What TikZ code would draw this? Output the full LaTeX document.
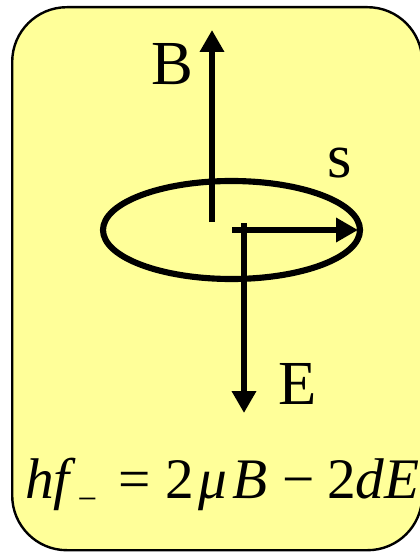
\documentclass[tikz,border=0pt]{standalone}
\usepackage{fontspec}
\setmainfont{Liberation Serif}
\usetikzlibrary{arrows.meta,shapes.geometric}
\definecolor{cardbg}{HTML}{FFFF99}
\tikzset{
  cardbox/.style={draw=black, line width=1.8pt, fill=cardbg, rounded corners=41pt},
  orbitbox/.style={draw=black, line width=4.6pt, ellipse, inner sep=0pt,
                   minimum width=192.75pt, minimum height=73.5pt},
  vecarr/.style={-{Triangle[length=16.5pt, width=17.5pt]}, line width=5pt, color=black},
  veclabel/.style={font=\fontsize{47pt}{50pt}\selectfont, inner sep=0pt},
  eqlabel/.style={font=\fontsize{43pt}{46pt}\selectfont, inner sep=0pt}}

\begin{document}
\begin{tikzpicture}[x=0.75pt, y=-0.75pt]
  \useasboundingbox (0,0) rectangle (419,552);
  \node[cardbox, minimum width=307.5pt, minimum height=407.25pt, anchor=north west] (card) at (11,6) {};
  % spin loop and field vectors
  \node[orbitbox] (orbit) at (231.5,230) {};
  \coordinate (Bfoot) at (212,222);
  \coordinate (Btip) at (212,30);
  \coordinate (Efoot) at (244,223);
  \coordinate (Etip) at (244,413);
  \coordinate (sfoot) at (232,230);
  \coordinate (stip) at (358,230);
  \draw[vecarr] (Bfoot) -- (Btip);
  \draw[vecarr] (Efoot) -- (Etip);
  \draw[vecarr] (sfoot) -- (stip);
  \node[veclabel] (Blabel) at (172,64) {B};
  \node[veclabel] (slabel) at (340,163) {s};
  \node[veclabel] (Elabel) at (298,384) {E};
  \node[eqlabel, anchor=base west] (energy) at (25,498)
    {\textit{hf}\hspace{0.02em}{\fontsize{26pt}{26pt}\selectfont\raisebox{-9.5pt}{−}}\hspace{0.38em}=\hspace{0.25em}2\hspace{0.07em}\textit{μ}\hspace{0.1em}\textit{B}\hspace{0.26em}−\hspace{0.21em}2\textit{dE}};
\end{tikzpicture}
\end{document}
